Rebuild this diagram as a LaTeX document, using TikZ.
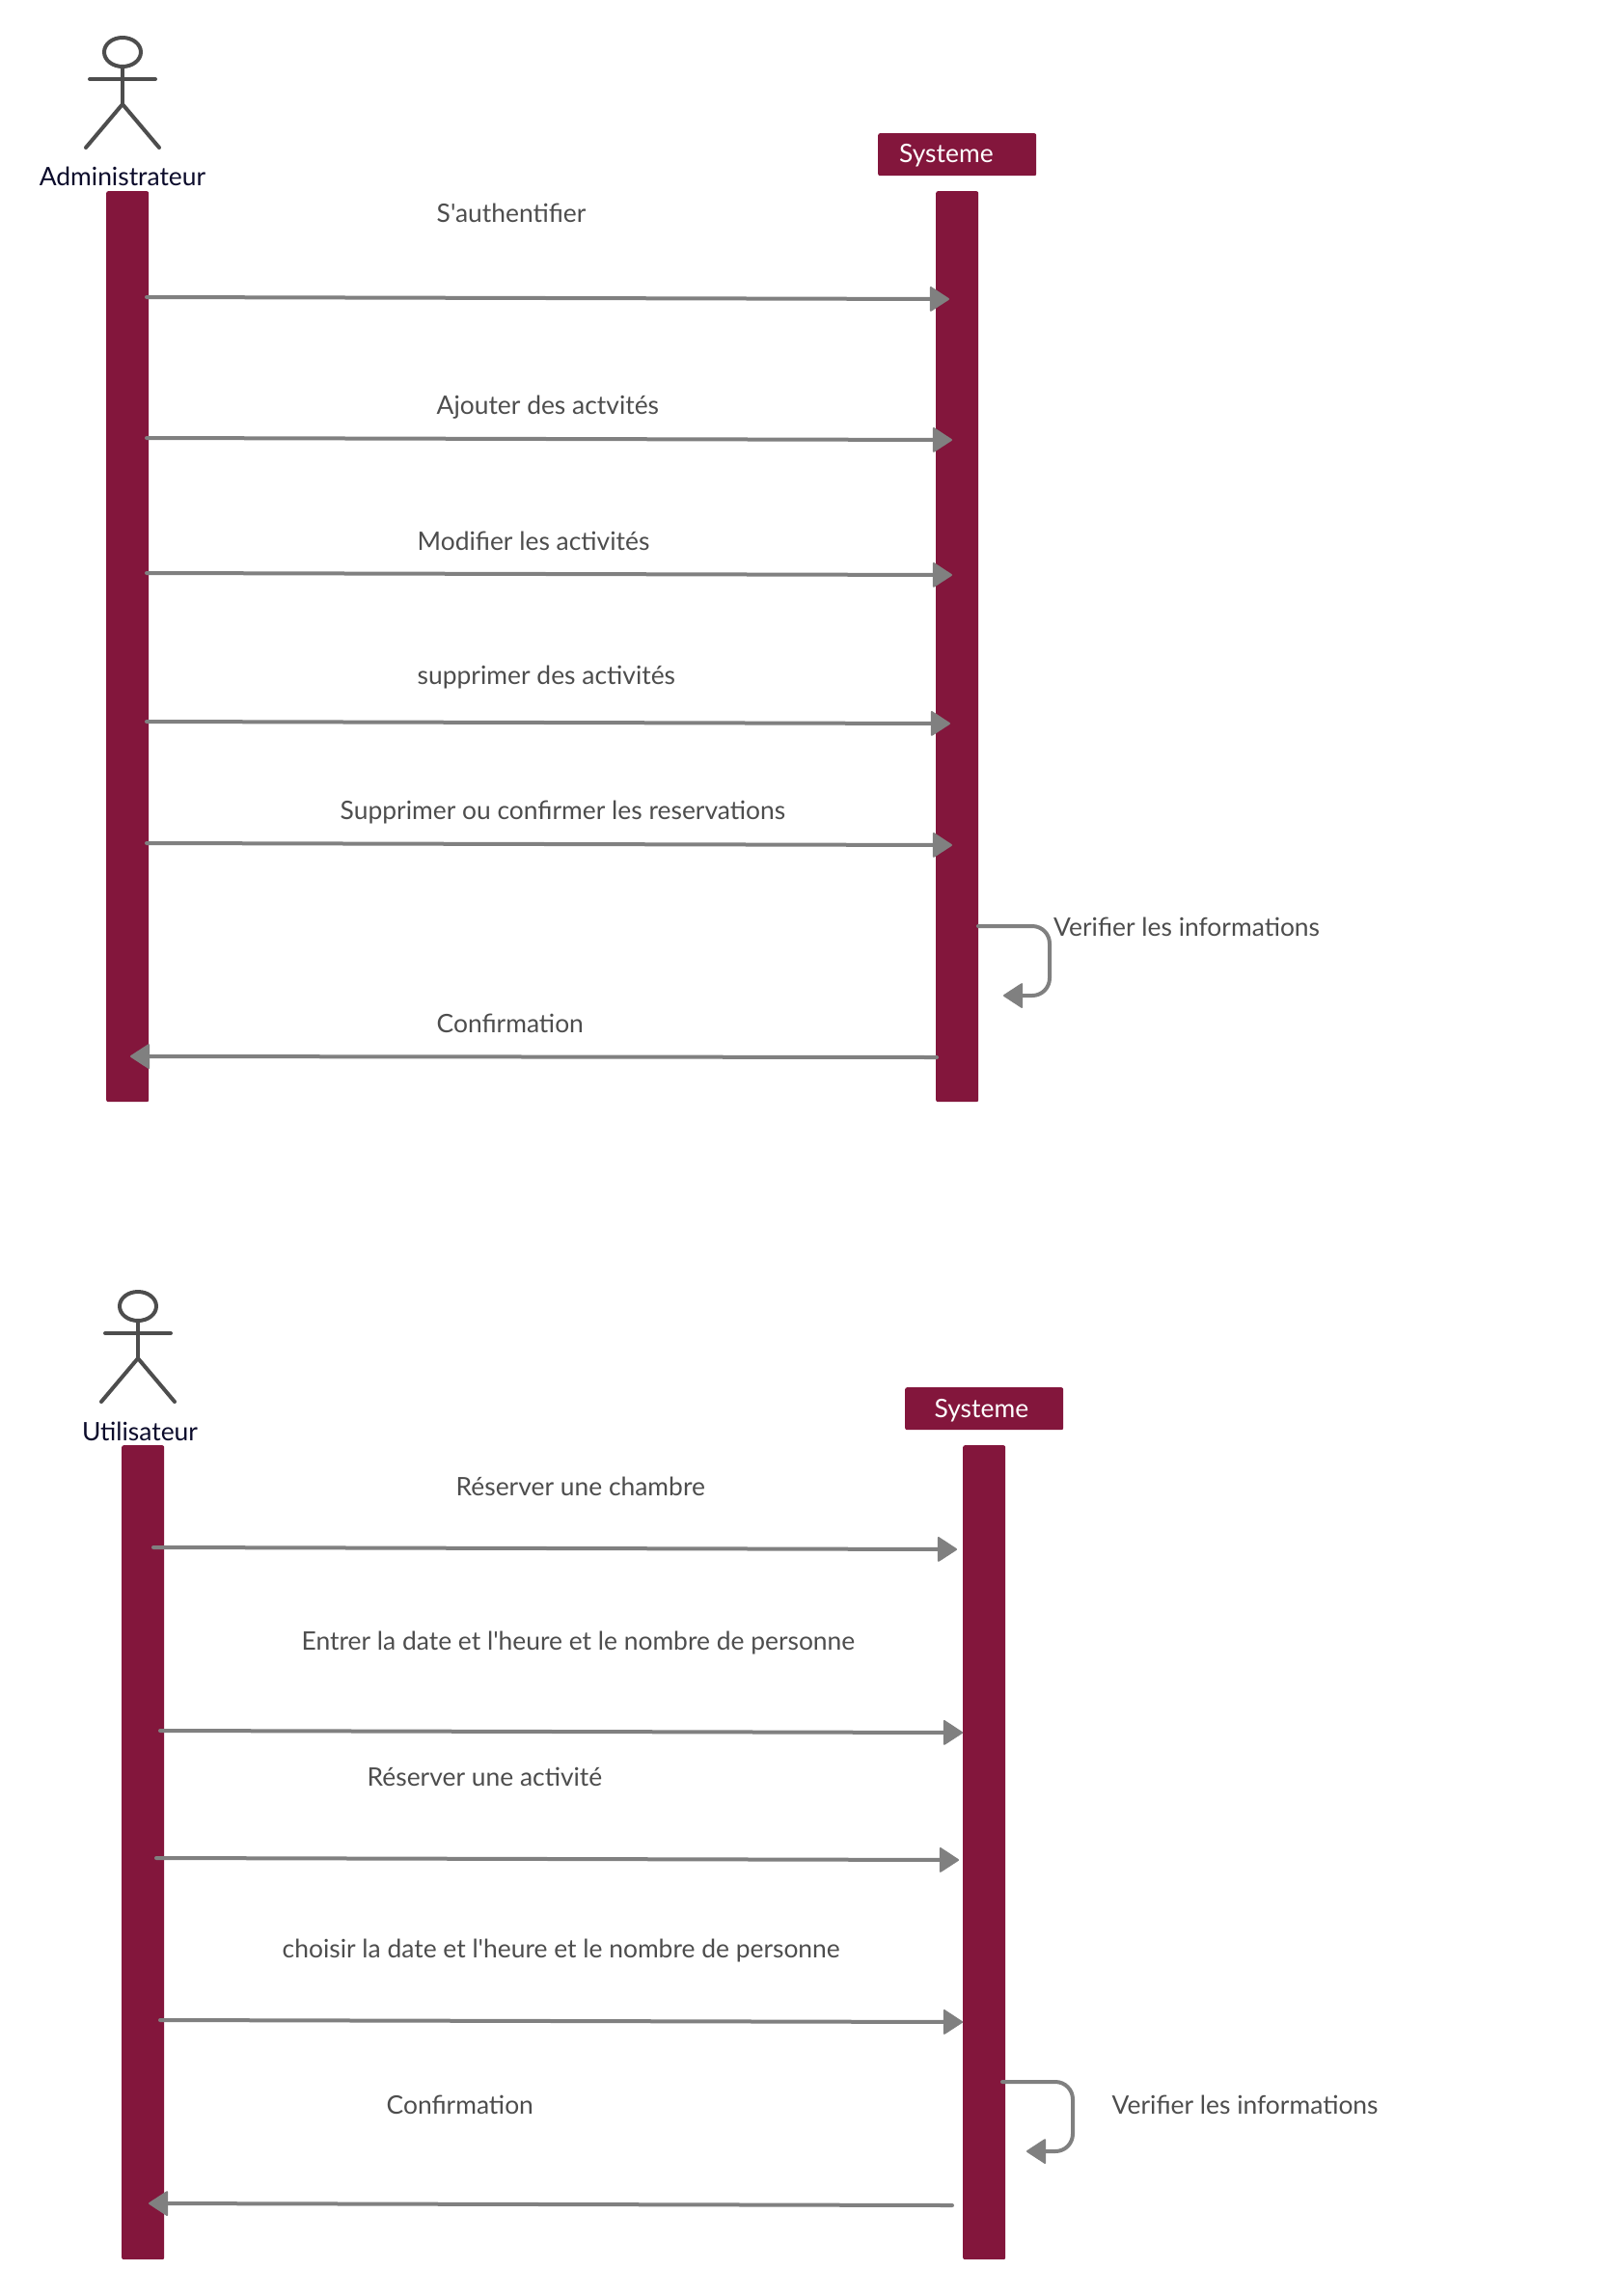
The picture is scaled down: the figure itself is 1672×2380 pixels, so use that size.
\documentclass[tikz,border=0pt]{standalone}
\usepackage{fontspec}
\newfontfamily\latoplain{Lato}
\usetikzlibrary{arrows.meta,shapes.geometric}
\definecolor{wine}{HTML}{83163C}
\definecolor{conn}{HTML}{808080}
\definecolor{inktxt}{HTML}{4D4D4D}
\definecolor{actorname}{HTML}{0B0B2B}
\tikzset{
  x=1pt,y=-1pt,
  txtfont/.style={font=\latoplain\fontsize{26.4}{30}\selectfont},
  lifeline/.style={fill=wine,rounded corners=2pt,inner sep=0pt,minimum width=44pt,anchor=north west},
  headbox/.style={fill=wine,rounded corners=2pt,inner sep=0pt,minimum width=164pt,minimum height=44pt,anchor=north west},
  headtxt/.style={txtfont,text=white,inner sep=0pt,anchor=west},
  lbl/.style={txtfont,text=inktxt,inner sep=0pt,anchor=west},
  actorlbl/.style={txtfont,text=actorname,inner sep=0pt},
  msg/.style={draw=conn,line width=4pt,line cap=round,-{Triangle[length=21pt,width=27pt,line width=2pt,round,fill=conn]}},
  stick/.style={draw=inktxt,line width=4pt,line cap=round},
  headshape/.style={ellipse,draw=inktxt,line width=4pt,inner sep=0pt,minimum width=38pt,minimum height=30pt},
}
\newcommand{\stickman}[3]{%
  \begin{scope}[shift={(#1,#2)}]
    \node[headshape] (#3head) at (127,54) {};
    \coordinate (#3hip) at (127,108);
    \coordinate (#3la) at (93,82);
    \coordinate (#3ra) at (161,82);
    \coordinate (#3lf) at (89,153);
    \coordinate (#3rf) at (165,153);
    \draw[stick] (#3head.south) -- (#3hip);
    \draw[stick] (#3la) -- (#3ra);
    \draw[stick,line join=round] (#3lf) -- (#3hip) -- (#3rf);
  \end{scope}}
\begin{document}
\begin{tikzpicture}
\useasboundingbox (0,0) rectangle (1672,2380);
% --- first diagram
\stickman{0}{0}{a}
\node[actorlbl] (adm) at (127,182.5) {Administrateur};
\node[lifeline,minimum height=944pt] (L1) at (110,198) {};
\node[lifeline,minimum height=944pt] (S1) at (970,198) {};
\node[headbox] (H1) at (910,138) {};
\node[headtxt] (H1t) at (932,161) {Systeme};
\foreach \n/\ya/\yb/\xb in {a/308/310/984,b/454/456/987,c/594/596/987,d/748/750/985,e/874/876/987}{
  \coordinate (\n s) at (152,\ya);
  \coordinate (\n t) at (\xb,\yb);
  \draw[msg] (\n s) -- (\n t);
}
\node[lbl] (t1) at (452.5,220.5) {S'authentifier};
\node[lbl] (t2) at (452.5,422) {Ajouter des actvités};
\node[lbl] (t3) at (432.5,561) {Modifier les activités};
\node[lbl] (t4) at (432.5,702) {supprimer des activités};
\node[lbl] (t5) at (352.5,842) {Supprimer ou confirmer les reservations};
\node[lbl] (t6) at (1092,961) {Verifier les informations};
\node[lbl] (t7) at (452.5,1061) {Confirmation};
\coordinate (sfa) at (1014,960);
\coordinate (sfb) at (1040,1032);
\draw[msg,rounded corners=18pt] (sfa) -- (1088,960) -- (1088,1032) -- (sfb);
\coordinate (ca) at (971,1096);
\coordinate (cb) at (135,1095);
\draw[msg] (ca) -- (cb);
% --- second diagram
\stickman{16}{1300}{b}
\node[actorlbl] (usr) at (145,1483.5) {Utilisateur};
\node[lifeline,minimum height=844pt] (L2) at (126,1498) {};
\node[lifeline,minimum height=844pt] (S2) at (998,1498) {};
\node[headbox] (H2) at (938,1438) {};
\node[headtxt] (H2t) at (968.5,1462.5) {Systeme};
\foreach \n/\xa/\ya/\yb/\xb in {f/159/1604/1606/992,g/166/1794/1796/998,h/162/1926/1928/994,i/166/2094/2096/998}{
  \coordinate (\n s) at (\xa,\ya);
  \coordinate (\n t) at (\xb,\yb);
  \draw[msg] (\n s) -- (\n t);
}
\node[lbl] (u1) at (472.5,1541) {Réserver une chambre};
\node[lbl] (u2) at (312.5,1703) {Entrer la date et l'heure et le nombre de personne};
\node[lbl] (u3) at (380.5,1841.5) {Réserver une activité};
\node[lbl] (u4) at (292.5,2022.5) {choisir la date et l'heure et le nombre de personne};
\node[lbl] (u5) at (400.5,2181.5) {Confirmation};
\node[lbl] (u6) at (1152.5,2181.5) {Verifier les informations};
\coordinate (sga) at (1039,2158);
\coordinate (sgb) at (1064,2230);
\draw[msg,rounded corners=18pt] (sga) -- (1112,2158) -- (1112,2230) -- (sgb);
\coordinate (da) at (987,2286);
\coordinate (db) at (154,2284);
\draw[msg] (da) -- (db);
\end{tikzpicture}
\end{document}
